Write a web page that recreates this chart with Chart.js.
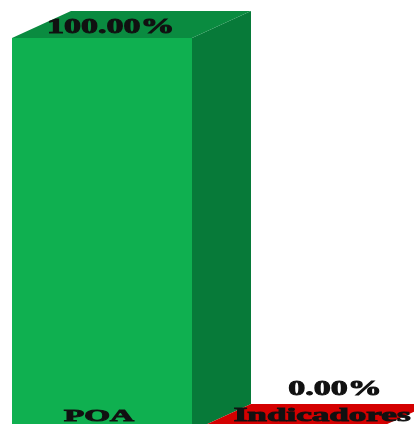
<!DOCTYPE html>
<html>
<head>
<meta charset="utf-8">
<script src="https://cdn.jsdelivr.net/npm/chart.js@4"></script>
<style>
  html, body { margin: 0; padding: 0; background: #fff; overflow: hidden; }
  #wrap { width: 414px; height: 440px; position: relative; }
</style>
</head>
<body>
<div id="wrap"><canvas id="chart"></canvas></div>
<script>
// datos del gráfico
const categories = ['POA', 'Indicadores'];
const values = [100, 0];
const valueLabels = ['100.00%', '0.00%'];

const frontColors = ['#0fb050', '#c40000'];
const topColors = ['#0a8b40', '#d40000'];
const sideColors = ['#077a39', '#9a0000'];

// profundidad del efecto 3D
const DX = 59, DY = 27;

function stretchedText(ctx, text, x, y, font, sx) {
  ctx.save();
  ctx.font = font;
  ctx.textAlign = 'center';
  ctx.textBaseline = 'alphabetic';
  ctx.fillStyle = '#111';
  ctx.strokeStyle = '#111';
  ctx.lineWidth = 0.9;
  ctx.translate(x, y);
  ctx.scale(sx, 1);
  ctx.fillText(text, 0, 0);
  ctx.strokeText(text, 0, 0);
  ctx.restore();
}

const bars3d = {
  id: 'bars3d',
  afterDatasetsDraw(chart) {
    const ctx = chart.ctx;
    const meta = chart.getDatasetMeta(0);
    meta.data.forEach((bar, i) => {
      const half = bar.width / 2;
      const l = bar.x - half, r = bar.x + half;
      const t = bar.y, b = bar.base;
      ctx.save();
      // cara lateral
      ctx.fillStyle = sideColors[i];
      ctx.beginPath();
      ctx.moveTo(r, t); ctx.lineTo(r + DX, t - DY);
      ctx.lineTo(r + DX, b - DY); ctx.lineTo(r, b);
      ctx.closePath(); ctx.fill();
      // cara superior
      ctx.fillStyle = topColors[i];
      ctx.beginPath();
      ctx.moveTo(l, t); ctx.lineTo(l + DX, t - DY);
      ctx.lineTo(r + DX, t - DY); ctx.lineTo(r, t);
      ctx.closePath(); ctx.fill();
      ctx.restore();
    });
    // etiquetas
    meta.data.forEach((bar, i) => {
      const tall = bar.base - bar.y > 40;
      const vx = tall ? bar.x + DX * 0.15 : bar.x + DX * 0.9;
      const vy = tall ? bar.y - 5 : bar.y - DY - 9;
      stretchedText(ctx, valueLabels[i], vx, vy, 'bold 20px "Liberation Serif"', 1.7);
      const cx = tall ? bar.x - 3 : bar.x + DX * 0.68;
      const size = tall ? 17 : 18;
      stretchedText(ctx, categories[i], cx, 421, 'bold ' + size + 'px "Liberation Serif"', 1.95);
    });
  },
};

new Chart(document.getElementById('chart'), {
  type: 'bar',
  data: {
    labels: categories,
    datasets: [{
      data: values,
      backgroundColor: frontColors,
      borderWidth: 0,
      barPercentage: 1,
      categoryPercentage: 1,
    }],
  },
  options: {
    responsive: true,
    maintainAspectRatio: false,
    animation: false,
    layout: { padding: { left: 12, right: 42, top: 38, bottom: 9 } },
    plugins: { legend: { display: false }, tooltip: { enabled: false } },
    scales: {
      x: { display: false },
      y: { display: false, min: 0, max: 100 },
    },
  },
  plugins: [bars3d],
});
</script>
</body>
</html>
